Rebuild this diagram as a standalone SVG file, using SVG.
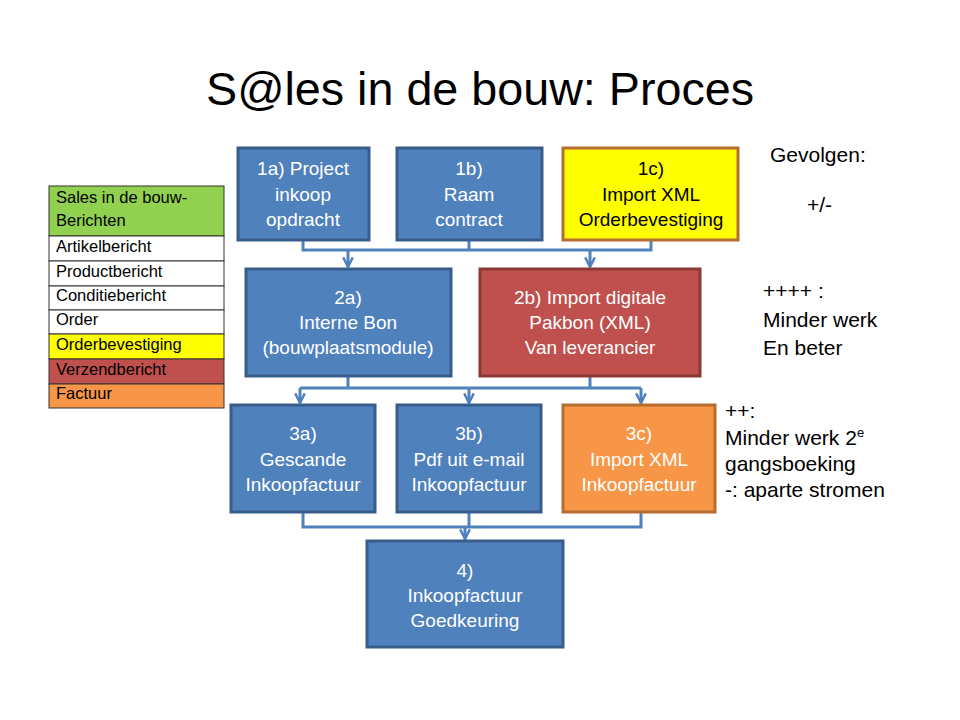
<svg xmlns="http://www.w3.org/2000/svg" width="960" height="720" viewBox="0 0 960 720">
<style>
text{font-family:"Liberation Sans","Open Sans",sans-serif}
.title{font-size:46px;fill:#000}
.bt{font-size:19px;fill:#fff;text-anchor:middle}
.btd{font-size:19px;fill:#000;text-anchor:middle}
.blue{fill:#4F81BD;stroke:#385D8A;stroke-width:3}
.red{fill:#C0504D;stroke:#8C3836;stroke-width:3}
.yel{fill:#FFFF00;stroke:#B66D31;stroke-width:3}
.org{fill:#F79646;stroke:#B66D31;stroke-width:3}
.lg{font-size:16.5px;fill:#000}
.lr{stroke:#333;stroke-width:1}
.side{font-size:21px;fill:#000}
.con{fill:none;stroke:#4F81BD;stroke-width:3}
</style>
<defs>
<marker id="arr" viewBox="0 0 10 10" refX="9" refY="5" markerWidth="4" markerHeight="4" orient="auto" markerUnits="strokeWidth">
<path d="M1,1 L9,5 L1,9" fill="none" stroke="#4F81BD" stroke-width="2"/>
</marker>
</defs>
<rect width="960" height="720" fill="#fff"/>
<text class="title" x="480" y="105" text-anchor="middle" textLength="548" lengthAdjust="spacingAndGlyphs">S@les in de bouw: Proces</text>

<g id="legend">
<rect x="49" y="186" width="175" height="50" fill="#92D050" class="lr"/>
<rect x="49" y="236" width="175" height="25" fill="#fff" class="lr"/>
<rect x="49" y="261" width="175" height="25" fill="#fff" class="lr"/>
<rect x="49" y="286" width="175" height="24" fill="#fff" class="lr"/>
<rect x="49" y="310" width="175" height="24" fill="#fff" class="lr"/>
<rect x="49" y="334" width="175" height="25" fill="#FFFF00" class="lr"/>
<rect x="49" y="359" width="175" height="25" fill="#C0504D" class="lr"/>
<rect x="49" y="384" width="175" height="24" fill="#F79646" class="lr"/>
<text class="lg" x="56" y="203">Sales in de bouw-</text>
<text class="lg" x="56" y="226">Berichten</text>
<text class="lg" x="56" y="252">Artikelbericht</text>
<text class="lg" x="56" y="277">Productbericht</text>
<text class="lg" x="56" y="301">Conditiebericht</text>
<text class="lg" x="56" y="325">Order</text>
<text class="lg" x="56" y="350">Orderbevestiging</text>
<text class="lg" x="56" y="375">Verzendbericht</text>
<text class="lg" x="56" y="399">Factuur</text>
</g>

<g id="connectors">
<polyline class="con" points="303,240 303,250 651,250 651,240"/>
<line class="con" x1="469" y1="240" x2="469" y2="250"/>
<line class="con" x1="348" y1="250" x2="348" y2="267" marker-end="url(#arr)"/>
<line class="con" x1="590" y1="250" x2="590" y2="267" marker-end="url(#arr)"/>
<line class="con" x1="348" y1="376" x2="348" y2="388"/>
<line class="con" x1="590" y1="376" x2="590" y2="388"/>
<line class="con" x1="300" y1="388" x2="641" y2="388"/>
<line class="con" x1="300" y1="388" x2="300" y2="403" marker-end="url(#arr)"/>
<line class="con" x1="469" y1="388" x2="469" y2="403" marker-end="url(#arr)"/>
<line class="con" x1="641" y1="388" x2="641" y2="403" marker-end="url(#arr)"/>
<polyline class="con" points="303,512 303,527 641,527 641,512"/>
<line class="con" x1="469" y1="512" x2="469" y2="527"/>
<line class="con" x1="465" y1="527" x2="465" y2="539" marker-end="url(#arr)"/>
</g>

<g id="n1a">
<rect class="blue" x="238" y="148" width="131" height="92"/>
<text class="bt" x="303" y="175">1a) Project</text>
<text class="bt" x="303" y="201">inkoop</text>
<text class="bt" x="303" y="226">opdracht</text>
</g>
<g id="n1b">
<rect class="blue" x="397" y="148" width="145" height="92"/>
<text class="bt" x="469" y="175">1b)</text>
<text class="bt" x="469" y="201">Raam</text>
<text class="bt" x="469" y="226">contract</text>
</g>
<g id="n1c">
<rect class="yel" x="563" y="148" width="175" height="92"/>
<text class="btd" x="651" y="175">1c)</text>
<text class="btd" x="651" y="201">Import XML</text>
<text class="btd" x="651" y="226">Orderbevestiging</text>
</g>
<g id="n2a">
<rect class="blue" x="246" y="269" width="205" height="107"/>
<text class="bt" x="348" y="304">2a)</text>
<text class="bt" x="348" y="329">Interne Bon</text>
<text class="bt" x="348" y="354">(bouwplaatsmodule)</text>
</g>
<g id="n2b">
<rect class="red" x="480" y="269" width="220" height="107"/>
<text class="bt" x="590" y="304">2b) Import  digitale</text>
<text class="bt" x="590" y="329">Pakbon (XML)</text>
<text class="bt" x="590" y="354">Van leverancier</text>
</g>
<g id="n3a">
<rect class="blue" x="231" y="405" width="144" height="107"/>
<text class="bt" x="303" y="440">3a)</text>
<text class="bt" x="303" y="466">Gescande</text>
<text class="bt" x="303" y="491">Inkoopfactuur</text>
</g>
<g id="n3b">
<rect class="blue" x="397" y="405" width="144" height="107"/>
<text class="bt" x="469" y="440">3b)</text>
<text class="bt" x="469" y="466">Pdf uit e-mail</text>
<text class="bt" x="469" y="491">Inkoopfactuur</text>
</g>
<g id="n3c">
<rect class="org" x="563" y="405" width="152" height="107"/>
<text class="bt" x="639" y="440">3c)</text>
<text class="bt" x="639" y="466">Import XML</text>
<text class="bt" x="639" y="491">Inkoopfactuur</text>
</g>
<g id="n4">
<rect class="blue" x="367" y="541" width="196" height="106"/>
<text class="bt" x="465" y="577">4)</text>
<text class="bt" x="465" y="602">Inkoopfactuur</text>
<text class="bt" x="465" y="627">Goedkeuring</text>
</g>

<g id="notes">
<text class="side" x="770" y="162">Gevolgen:</text>
<text class="side" x="807" y="212">+/-</text>
<text class="side" x="763" y="298">++++ :</text>
<text class="side" x="763" y="327">Minder werk</text>
<text class="side" x="763" y="355">En beter</text>
<text class="side" x="725" y="418">++:</text>
<text class="side" x="725" y="445">Minder werk 2<tspan font-size="13" dy="-8">e</tspan></text>
<text class="side" x="725" y="471">gangsboeking</text>
<text class="side" x="725" y="497">-: aparte stromen</text>
</g>
</svg>
